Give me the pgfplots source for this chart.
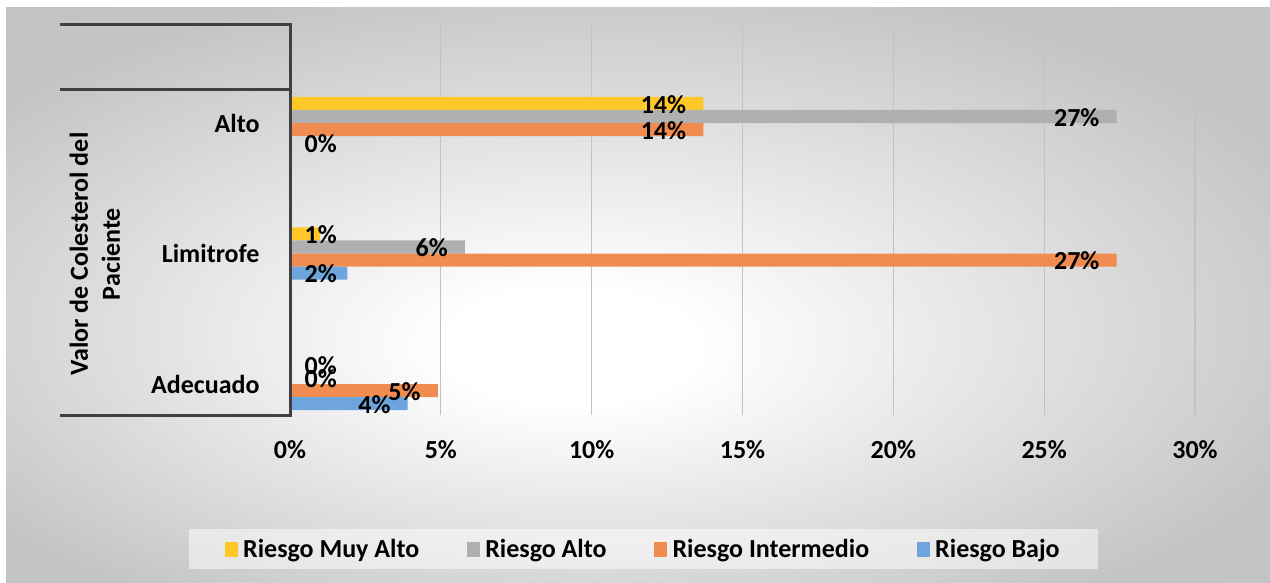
\documentclass[border=0pt]{standalone}
\usepackage{fontspec}
\setmainfont{Carlito}
\usepackage{pgfplots}
\pgfplotsset{compat=1.18}
\newcommand\bigbold{\fontsize{26pt}{32pt}\selectfont\bfseries}
\definecolor{cyellow}{RGB}{255,200,40}
\definecolor{cgray}{RGB}{176,176,176}
\definecolor{corange}{RGB}{240,140,80}
\definecolor{cblue}{RGB}{110,165,220}
\pgfdeclareradialshading{bgshade}{\pgfpoint{-3bp}{-5bp}}{color(0bp)=(white); color(5bp)=(white); color(30bp)=(black!23); color(50bp)=(black!25)}
\begin{document}
\begin{tikzpicture}
\useasboundingbox (0,0) rectangle (1270pt,582pt);
\shade[shading=bgshade] (6pt,0pt) rectangle (1270pt,574pt);
\begin{axis}[
  at={(290pt,167pt)}, anchor=south west,
  scale only axis, width=905pt, height=390pt,
  xbar, bar width=0.1,
  xmin=0, xmax=30, ymin=-0.2375, ymax=2.751,
  xtick={0,5,...,30}, xticklabels={0\%,5\%,10\%,15\%,20\%,25\%,30\%},
  ytick={0,1,2}, yticklabels={Adecuado,Limitrofe,Alto},
  tick style={draw=none},
  axis line style={draw=none},
  xmajorgrids, ymajorgrids=false,
  grid style={black!24, line width=1.2pt},
  ticklabel style={font=\bigbold},
  xticklabel style={anchor=center, yshift=-35pt},
  yticklabel style={anchor=east, inner sep=0pt, xshift=-26pt},
  ylabel={Valor de Colesterol del\\Paciente},
  ylabel style={font=\bigbold, align=center, at={(axis description cs:-0.2155,0.4128)}, anchor=center},
  clip=false,
  point meta=x,
  visualization depends on={x \as \rawx},
  nodes near coords={\pgfmathprintnumber[fixed,precision=0,assume math mode=true]{\pgfplotspointmeta}\%},
  every node near coord/.append style={font=\bigbold, anchor=east, inner sep=0pt, xshift={(max(\rawx-0.563,1.558)-\rawx)*30.17pt}, yshift=-1pt},
  legend columns=4,
  legend style={at={(axis description cs:0.3905,-0.3436)}, anchor=center, font=\bigbold, fill=white, fill opacity=0.5, text opacity=1, draw=none, inner xsep=36pt, inner ysep=8pt, nodes={inner sep=2.5pt}, /tikz/every even column/.append style={column sep=45pt}},
  legend image code/.code={\fill[#1, fill opacity=1] (0pt,-7.5pt) rectangle (13pt,7.5pt); \path (16pt,0pt);},
]
\addplot[fill=cyellow, draw=none, bar shift=0.15] coordinates {(0,0) (1.0,1) (13.7,2)};
\addplot[fill=cgray, draw=none, bar shift=0.05] coordinates {(0,0) (5.8,1) (27.4,2)};
\addplot[fill=corange, draw=none, bar shift=-0.05] coordinates {(4.9,0) (27.4,1) (13.7,2)};
\addplot[fill=cblue, draw=none, bar shift=-0.15] coordinates {(3.9,0) (1.9,1) (0,2)};
\legend{Riesgo Muy Alto, Riesgo Alto, Riesgo Intermedio, Riesgo Bajo}
\end{axis}
\draw[line width=3pt, black!75] (60pt,557pt) -- (290pt,557pt);
\draw[line width=3pt, black!75] (60pt,492pt) -- (290pt,492pt);
\draw[line width=3pt, black!75] (60pt,167pt) -- (290pt,167pt);
\draw[line width=3pt, black!75] (290pt,558.5pt) -- (290pt,165.5pt);
\end{tikzpicture}
\end{document}
